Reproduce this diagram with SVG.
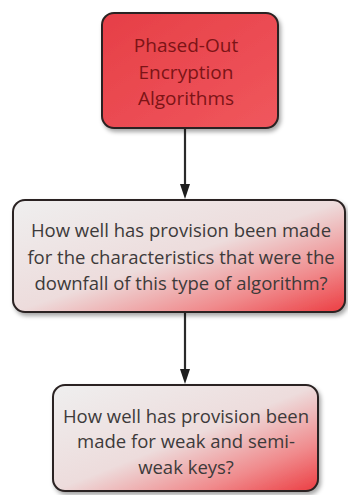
<svg xmlns="http://www.w3.org/2000/svg" width="348" height="495" viewBox="0 0 348 495">
  <defs>
    <linearGradient id="redFill" x1="0" y1="0" x2="1" y2="1">
      <stop offset="0" stop-color="#e63f47"/>
      <stop offset="1" stop-color="#f0575d"/>
    </linearGradient>
    <linearGradient id="fadeFill" x1="0" y1="0" x2="1" y2="1">
      <stop offset="0" stop-color="#efefef"/>
      <stop offset="0.5" stop-color="#eddcdc"/>
      <stop offset="0.78" stop-color="#f08a8c"/>
      <stop offset="1" stop-color="#ec3d42"/>
    </linearGradient>
    <filter id="shadow" x="-5%" y="-5%" width="115%" height="120%">
      <feDropShadow dx="2" dy="3" stdDeviation="2" flood-color="#000" flood-opacity="0.35"/>
    </filter>
  </defs>
  <style>
    .box { stroke: #2a2222; stroke-width: 2; filter: url(#shadow); }
    .lbl { font-family: "Open Sans", "Noto Sans", sans-serif; text-anchor: middle; }
    .top { fill: #7c1416; font-size: 19px; }
    .q { fill: #3d3a3a; font-size: 18.5px; }
    .link { stroke: #2a2a2a; stroke-width: 2.2; fill: none; }
    .head { fill: #1e1e1e; }
  </style>

  <g id="connectors">
    <line class="link" x1="185" y1="129" x2="185" y2="184"/>
    <path class="head" d="M180,184 L190,184 L185,199 Z"/>
    <line class="link" x1="185" y1="313" x2="185" y2="369"/>
    <path class="head" d="M180,369 L190,369 L185,384 Z"/>
  </g>

  <g id="phased-out">
    <rect class="box" x="102" y="13" width="176" height="115" rx="12" fill="url(#redFill)"/>
    <text class="lbl top" x="186" y="52">Phased-Out</text>
    <text class="lbl top" x="186" y="79">Encryption</text>
    <text class="lbl top" x="186" y="105">Algorithms</text>
  </g>

  <g id="downfall-question">
    <rect class="box" x="13" y="200" width="332" height="112" rx="12" fill="url(#fadeFill)"/>
    <text class="lbl q" x="181" y="237">How well has provision been made</text>
    <text class="lbl q" x="181" y="264">for the characteristics that were the</text>
    <text class="lbl q" x="181" y="290">downfall of this type of algorithm?</text>
  </g>

  <g id="weak-keys-question">
    <rect class="box" x="53" y="385" width="265" height="106" rx="12" fill="url(#fadeFill)"/>
    <text class="lbl q" x="186" y="423">How well has provision been</text>
    <text class="lbl q" x="186" y="448">made for weak and semi-</text>
    <text class="lbl q" x="186" y="474">weak keys?</text>
  </g>
</svg>
